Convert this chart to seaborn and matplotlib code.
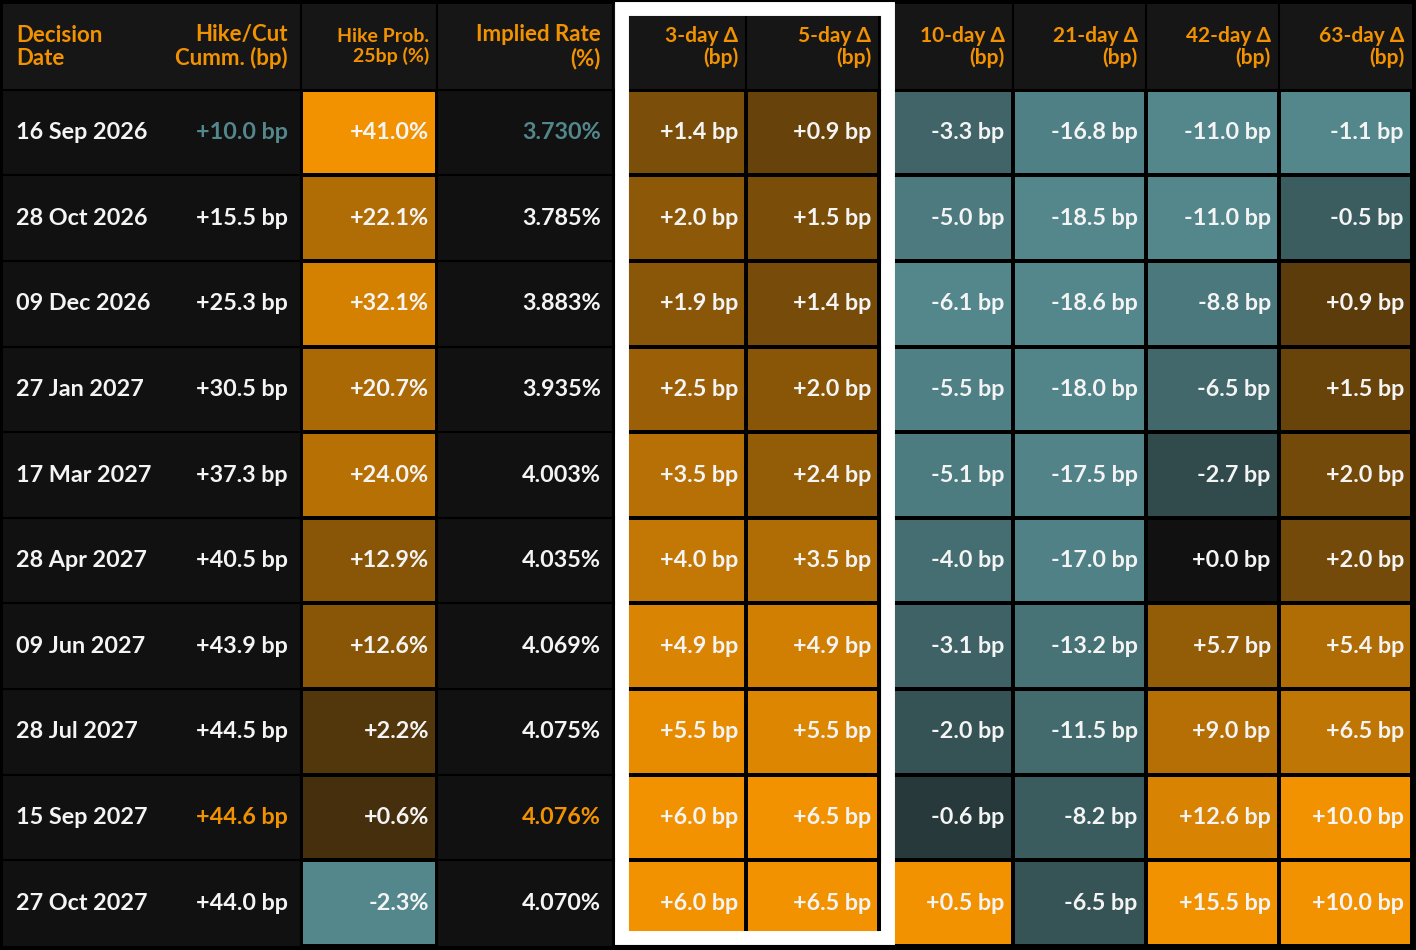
import numpy as np
import pandas as pd
import seaborn as sns
import matplotlib.pyplot as plt
from matplotlib.colors import ListedColormap, to_rgb
from matplotlib.patches import Rectangle

#%% DATA
dates = ["16 Sep 2026", "28 Oct 2026", "09 Dec 2026", "27 Jan 2027", "17 Mar 2027",
         "28 Apr 2027", "09 Jun 2027", "28 Jul 2027", "15 Sep 2027", "27 Oct 2027"]
hike_cut = [10.0, 15.5, 25.3, 30.5, 37.3, 40.5, 43.9, 44.5, 44.6, 44.0]
hike_prob = [41.0, 22.1, 32.1, 20.7, 24.0, 12.9, 12.6, 2.2, 0.6, -2.3]
implied = [3.730, 3.785, 3.883, 3.935, 4.003, 4.035, 4.069, 4.075, 4.076, 4.070]
d3 = [1.4, 2.0, 1.9, 2.5, 3.5, 4.0, 4.9, 5.5, 6.0, 6.0]
d5 = [0.9, 1.5, 1.4, 2.0, 2.4, 3.5, 4.9, 5.5, 6.5, 6.5]
d10 = [-3.3, -5.0, -6.1, -5.5, -5.1, -4.0, -3.1, -2.0, -0.6, 0.5]
d21 = [-16.8, -18.5, -18.6, -18.0, -17.5, -17.0, -13.2, -11.5, -8.2, -6.5]
d42 = [-11.0, -11.0, -8.8, -6.5, -2.7, 0.0, 5.7, 9.0, 12.6, 15.5]
d63 = [-1.1, -0.5, 0.9, 1.5, 2.0, 2.0, 5.4, 6.5, 10.0, 10.0]

delta_cols = ["3-day", "5-day", "10-day", "21-day", "42-day", "63-day"]
headers = ["Decision\nDate", "Hike/Cut\nCumm. (bp)", "Hike Prob.\n25bp (%)", "Implied Rate\n(%)"] + \
          [c + " Δ\n(bp)" for c in delta_cols]

deltas = pd.DataFrame(dict(zip(delta_cols, [d3, d5, d10, d21, d42, d63])))
prob = pd.DataFrame({"prob": hike_prob})

#%% STYLE
sns.set_theme(style="white")
plt.rcParams['font.family'] = ['Lato', 'DejaVu Sans']

ORANGE = "#F29200"
TEAL = "#53878C"
BG = "#111111"
HEAD_BG = "#161616"
WHITE = "#F4F4F4"

W, H = 1416, 950
top, bottom = 4, 946
left, right = 3, 1412
n_rows = len(dates) + 1
row_h = (bottom - top) / n_rows
# left edge, end of hike/cut, end of prob, end of implied, then the six delta columns
col_edges = [left, 301, 437, 613] + list(np.linspace(613, right, 7)[1:])


def side_norm(vals):
    # scale positive and negative values separately per column
    v = np.asarray(vals, float)
    pos = v[v > 0].max() if (v > 0).any() else 1.0
    neg = -v[v < 0].min() if (v < 0).any() else 1.0
    return np.where(v > 0, v / pos, np.where(v < 0, v / neg, 0.0))


bg_rgb = np.array(to_rgb(BG))
colors = []
for i in range(511):
    x = (i - 255) / 255
    if x == 0:
        colors.append(bg_rgb)
    else:
        a = 0.2 + 0.8 * abs(x) ** 0.75
        tgt = np.array(to_rgb(ORANGE if x > 0 else TEAL))
        colors.append(bg_rgb + a * (tgt - bg_rgb))
cmap = ListedColormap(colors)


def px_axes(fig, x0, y0, x1, y1, z):
    ax = fig.add_axes([x0 / W, 1 - y1 / H, (x1 - x0) / W, (y1 - y0) / H])
    ax.set_zorder(z)
    return ax


fig = plt.figure(figsize=(W / 100, H / 100), dpi=100, facecolor="black")

#%% BACKGROUND
ax_bg = px_axes(fig, 0, 0, W, H, 0)
ax_bg.set_xlim(0, W)
ax_bg.set_ylim(H, 0)
ax_bg.set_axis_off()
ax_bg.add_patch(Rectangle((left, top), right - left, bottom - top, color=BG, lw=0))
ax_bg.add_patch(Rectangle((left, top), right - left, row_h, color=HEAD_BG, lw=0))
ax_bg.hlines([top + row_h * k for k in range(1, n_rows)], left, right, color="black", lw=1.5)
ax_bg.vlines(col_edges[1:-1], top, bottom, color="black", lw=1.5)

#%% HEATMAP CELLS
body_fs = 16.8
kw = dict(cmap=cmap, vmin=-1, vmax=1, cbar=False, fmt="", linewidths=1.5,
          linecolor="black", xticklabels=False, yticklabels=False,
          annot_kws=dict(color=WHITE, fontsize=body_fs, fontweight="bold"))

ax_p = px_axes(fig, col_edges[1], top + row_h, col_edges[2], bottom, 1)
prob_lab = np.array([[f"{v:+.1f}%"] for v in hike_prob])
sns.heatmap(prob.apply(side_norm), ax=ax_p, annot=prob_lab, **kw)

ax_d = px_axes(fig, col_edges[3], top + row_h, right, bottom, 1)
d_lab = deltas.map(lambda v: f"{v:+.1f} bp").values
sns.heatmap(deltas.apply(side_norm), ax=ax_d, annot=d_lab, **kw)

for ax, width in [(ax_p, col_edges[2] - col_edges[1]), (ax_d, col_edges[4] - col_edges[3])]:
    for t in ax.texts:
        x, y = t.get_position()
        t.set_ha("right")
        t.set_x(np.floor(x) + 1 - 8 / width)

#%% TEXT COLUMNS + HEADERS
ax_t = px_axes(fig, 0, 0, W, H, 2)
ax_t.set_xlim(0, W)
ax_t.set_ylim(H, 0)
ax_t.set_axis_off()
ax_t.patch.set_alpha(0)


def hi_color(vals, i):
    if vals[i] == max(vals):
        return ORANGE
    if vals[i] == min(vals):
        return TEAL
    return WHITE


for i in range(len(dates)):
    yc = top + row_h * (i + 1.5)
    ax_t.text(16, yc, dates[i], ha="left", va="center", color=WHITE,
              fontsize=body_fs, fontweight="bold")
    ax_t.text(col_edges[1] - 13, yc, f"{hike_cut[i]:+.1f} bp", ha="right", va="center",
              color=hi_color(hike_cut, i), fontsize=body_fs, fontweight="bold")
    ax_t.text(col_edges[3] - 12, yc, f"{implied[i]:.3f}%", ha="right", va="center",
              color=hi_color(implied, i), fontsize=body_fs, fontweight="bold")

head_x = [16, col_edges[1] - 13, col_edges[2] - 8, col_edges[3] - 12] + [e - 8 for e in col_edges[4:]]
head_fs = [16, 16, 14, 16] + [15] * 6
yh = top + row_h / 2
for j, h in enumerate(headers):
    ha = "left" if j == 0 else "right"
    ax_t.text(head_x[j], yh, h, ha=ha, va="center", multialignment=ha, color=ORANGE,
              fontsize=head_fs[j], fontweight="bold", linespacing=1.12)

# highlight box round the short-term changes
ax_t.add_patch(Rectangle((622, 9), 266, 929, fill=False, edgecolor="white", lw=10))

fig.savefig("out.png", dpi=100, facecolor="black")
